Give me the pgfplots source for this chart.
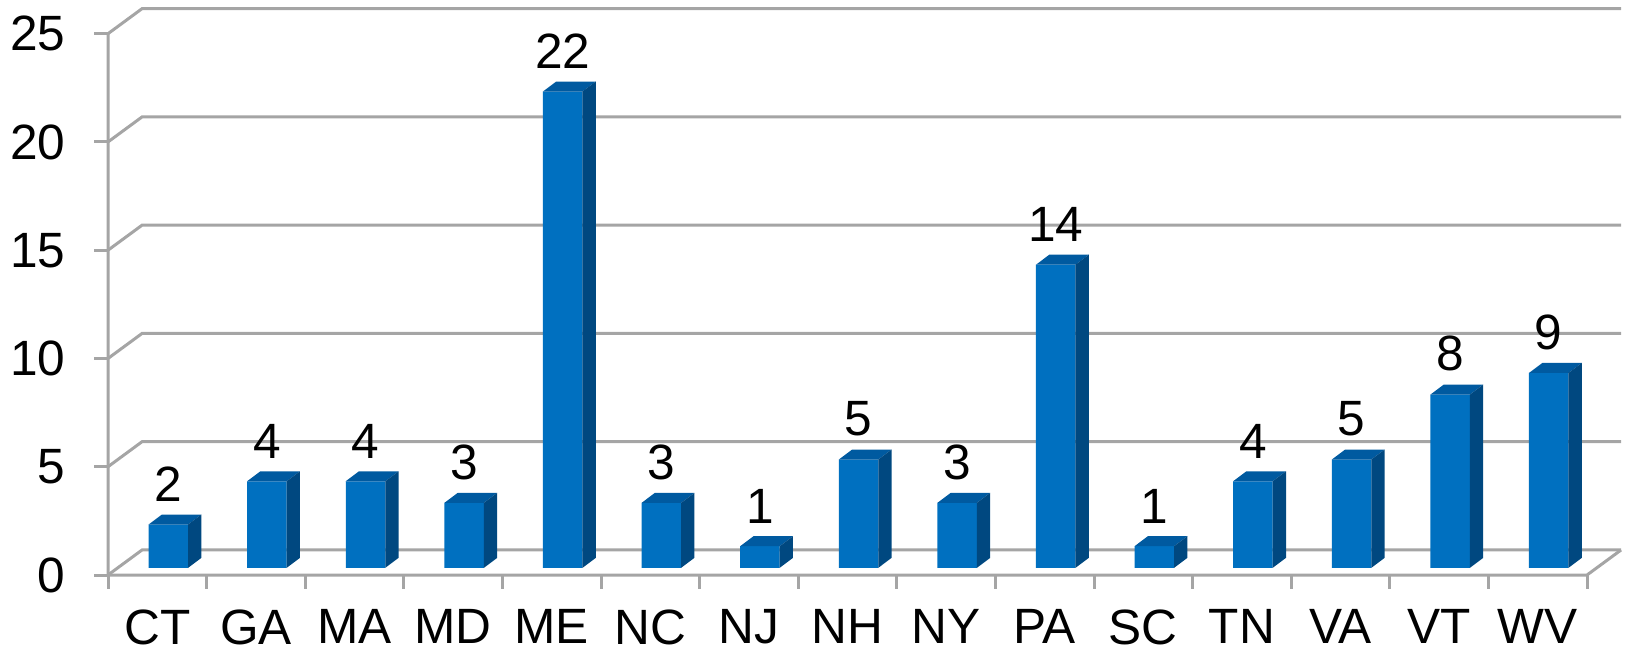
\documentclass[border=0pt]{standalone}
\usepackage{pgfplots}
\pgfplotsset{compat=1.18}
\usepackage{pgfplotstable}
\usepackage{fontspec}
\setmainfont{Liberation Sans}
\definecolor{barfront}{RGB}{0,112,192}
\definecolor{bartop}{RGB}{0,90,160}
\definecolor{barside}{RGB}{0,72,128}
\definecolor{gridgray}{RGB}{165,165,165}
\pgfdeclareplotmark{nothing}{}

\pgfplotstableread{
x v
0 2
1 4
2 4
3 3
4 22
5 3
6 1
7 5
8 3
9 14
10 1
11 4
12 5
13 8
14 9
}\data

\begin{document}
\begin{tikzpicture}
\begin{axis}[
  x=24.65pt, y=5.413pt,
  xmin=-0.5, xmax=14.845, ymin=-0.33, ymax=25.83,
  enlargelimits=false, clip=false,
  axis x line*=bottom, axis y line*=left,
  axis line style={draw=none},
  tick align=outside,
  major tick length=3.4pt,
  tick style={gridgray, line width=0.75pt},
  xtick={-0.5,0.5,...,14.5}, xticklabels={},
  extra x ticks={0,...,14},
  extra x tick labels={CT,GA,MA,MD,ME,NC,NJ,NH,NY,PA,SC,TN,VA,VT,WV},
  extra x tick style={major tick length=0pt},
  ytick={-0.33,4.67,9.67,14.67,19.67,24.67},
  yticklabels={0,5,10,15,20,25},
  ticklabel style={font=\fontsize{12.4}{14}\selectfont, inner sep=0pt},
  xticklabel style={yshift=-8.5pt},
  yticklabel style={xshift=-7.1pt},
  /pgf/number format/assume math mode=true,
]
% walls, floor and gridlines
\addplot[gridgray, line width=0.75pt, forget plot] coordinates {(-0.5,-0.33) (-0.155,0.825) (14.845,0.825)};
\addplot[gridgray, line width=0.75pt, forget plot] coordinates {(-0.5,4.67) (-0.155,5.825) (14.845,5.825)};
\addplot[gridgray, line width=0.75pt, forget plot] coordinates {(-0.5,9.67) (-0.155,10.825) (14.845,10.825)};
\addplot[gridgray, line width=0.75pt, forget plot] coordinates {(-0.5,14.67) (-0.155,15.825) (14.845,15.825)};
\addplot[gridgray, line width=0.75pt, forget plot] coordinates {(-0.5,19.67) (-0.155,20.825) (14.845,20.825)};
\addplot[gridgray, line width=0.75pt, forget plot] coordinates {(-0.5,24.67) (-0.155,25.825) (14.845,25.825)};
\addplot[gridgray, line width=0.75pt, forget plot] coordinates {(-0.5,24.67) (-0.5,-0.33) (14.5,-0.33) (14.845,0.825)};
% front faces
\addplot[ybar, bar width=9.875pt, bar shift=2.75pt, fill=barfront, draw=none,
  nodes near coords,
  every node near coord/.append style={font=\fontsize{12.4}{14}\selectfont, inner sep=0pt, anchor=south, xshift=2.75pt, yshift=5.6pt, text=black}]
  table[x=x, y=v] {\data};
% top and side faces
\addplot[scatter, only marks, mark=nothing,
  visualization depends on={\thisrow{v} \as \val},
  scatter/@pre marker code/.code={%
    \pgfmathsetmacro\H{\val*5.413}%
    \pgfscope
    \pgfsetfillcolor{bartop}%
    \pgfpathmoveto{\pgfpoint{-2.19pt}{0pt}}%
    \pgfpathlineto{\pgfpoint{7.69pt}{0pt}}%
    \pgfpathlineto{\pgfpoint{11.02pt}{2.5pt}}%
    \pgfpathlineto{\pgfpoint{1.14pt}{2.5pt}}%
    \pgfpathclose
    \pgfusepath{fill}%
    \pgfsetfillcolor{barside}%
    \pgfpathmoveto{\pgfpoint{7.69pt}{0pt}}%
    \pgfpathlineto{\pgfpoint{11.02pt}{2.5pt}}%
    \pgfpathlineto{\pgfpoint{11.02pt}{2.5pt-\H pt}}%
    \pgfpathlineto{\pgfpoint{7.69pt}{-\H pt}}%
    \pgfpathclose
    \pgfusepath{fill}%
    \endpgfscope
  },
  scatter/@post marker code/.code={}]
  table[x=x, y=v] {\data};
\coordinate (O) at (axis cs:-0.5,-0.33);
\end{axis}
\pgfresetboundingbox
\path[use as bounding box] ([xshift=-27pt,yshift=143.75pt]O) rectangle ([xshift=379.25pt,yshift=-19.75pt]O);
\end{tikzpicture}
\end{document}
